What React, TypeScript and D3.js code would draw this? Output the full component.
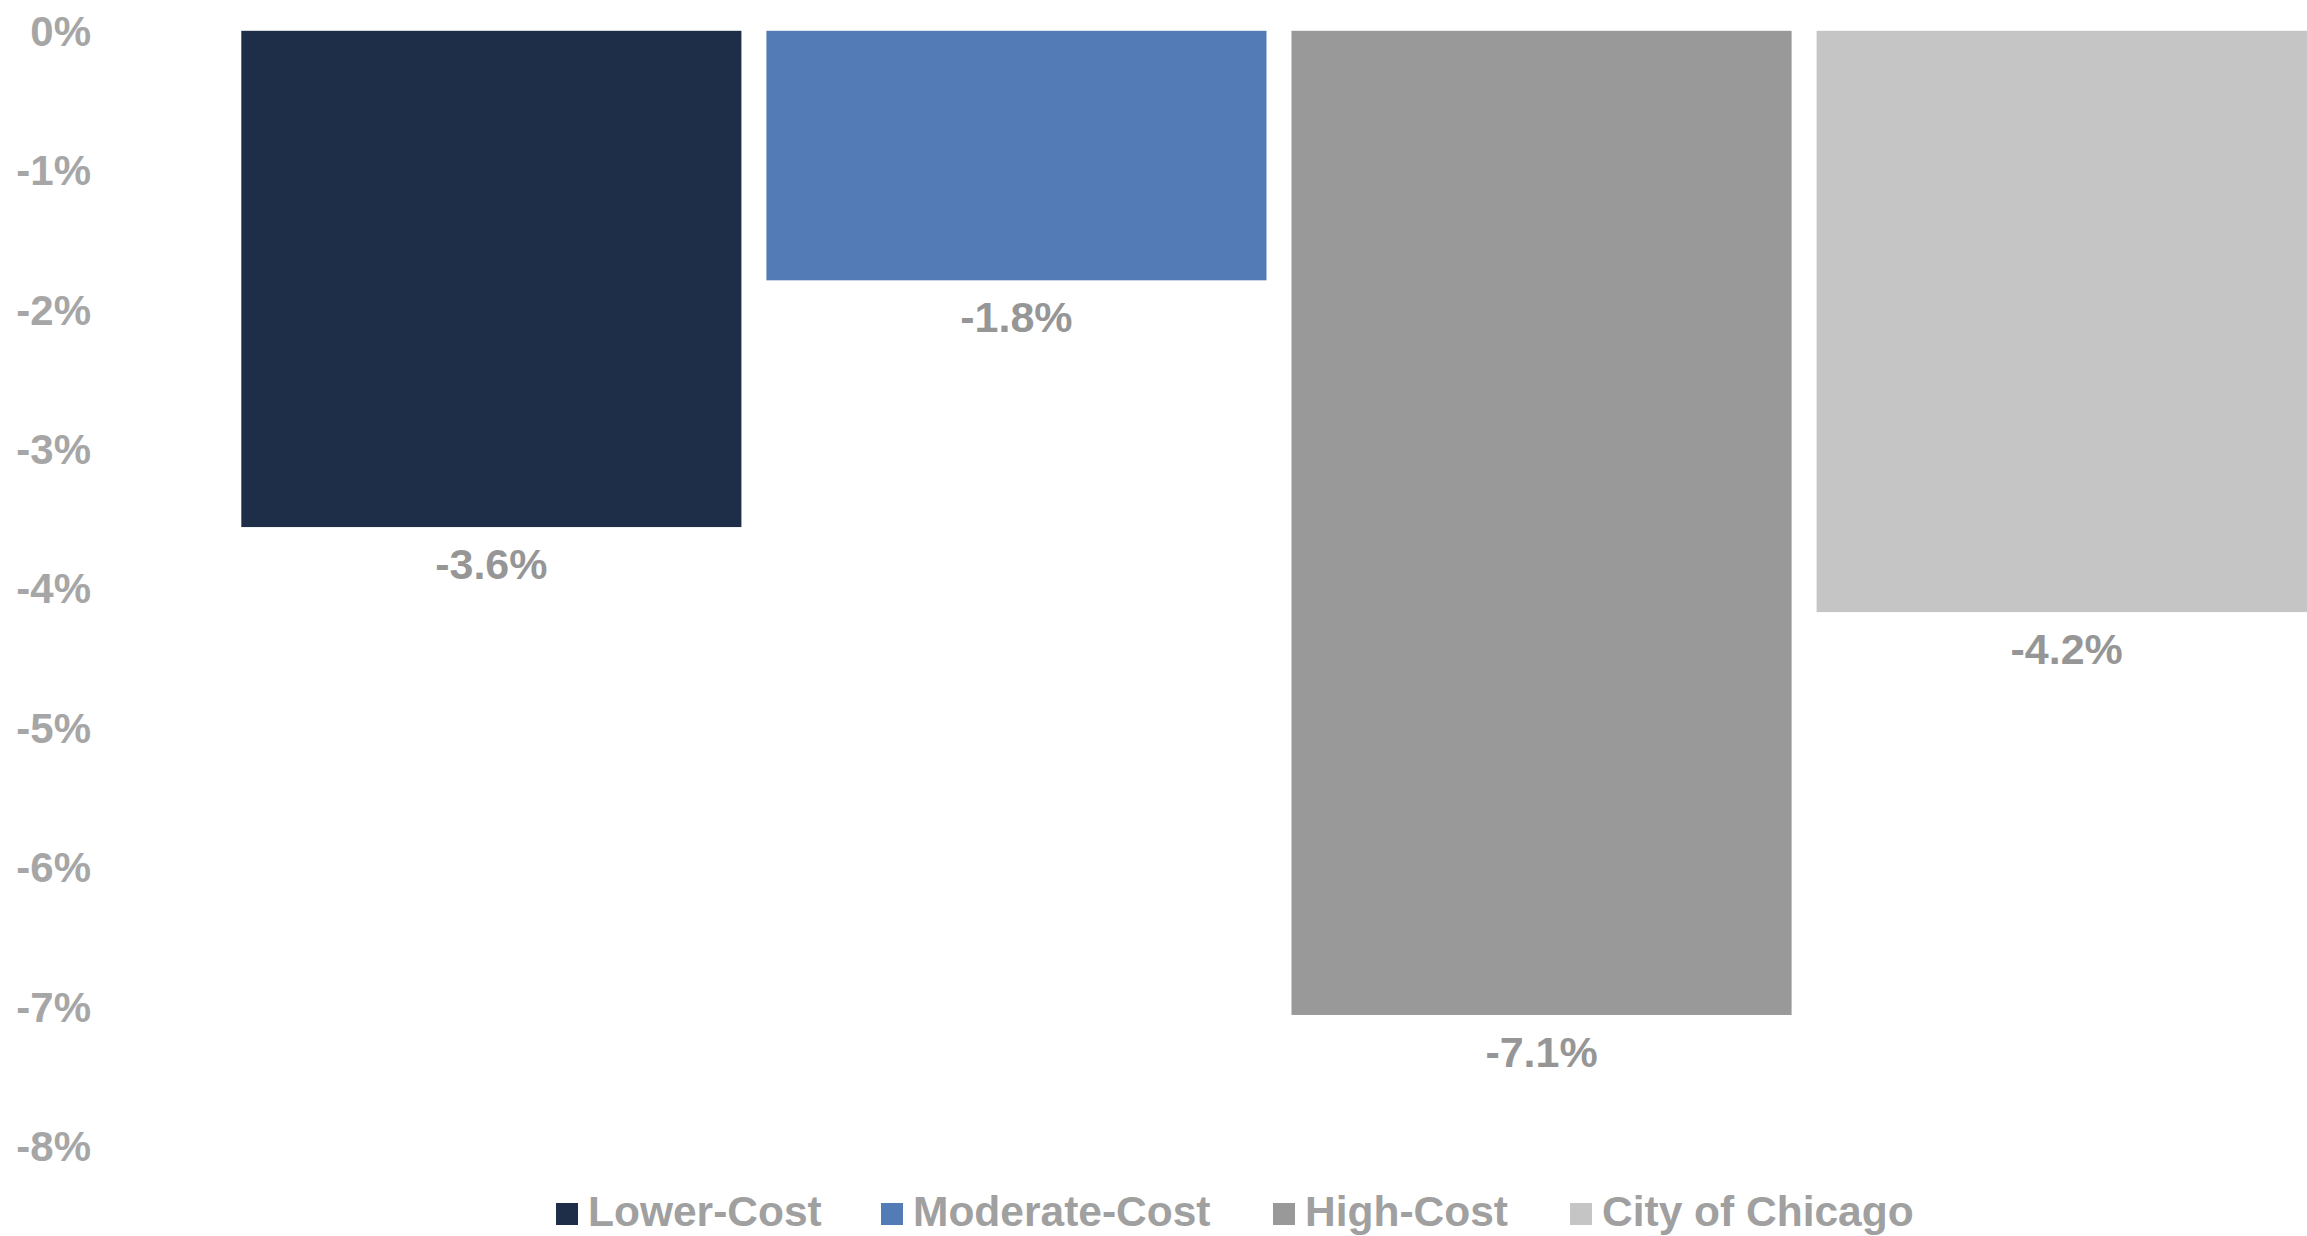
import React from "react";
import * as d3 from "d3";

const categories = ["Lower-Cost", "Moderate-Cost", "High-Cost", "City of Chicago"];
const values = [-3.56, -1.79, -7.06, -4.17];
const colors = ["#1F2E48", "#537BB5", "#999999", "#C5C5C5"];
const yTicks = [0, -1, -2, -3, -4, -5, -6, -7, -8];

const W = 2307;
const H = 1236;
const FONT = "'Liberation Sans', Arial, Helvetica, sans-serif";

export default function App() {
  const x = d3
    .scaleBand<string>()
    .domain(categories)
    .range([228.8, 2329.2])
    .paddingInner(0.0476)
    .paddingOuter(0.0238);
  const y = d3.scaleLinear().domain([-8, 0]).range([1146, 30.8]);

  const legendX = [556, 881, 1273, 1570];

  return (
    <svg
      width={W}
      height={H}
      style={{ position: "absolute", left: 0, top: 0, background: "#fff" }}
      fontFamily={FONT}
      fontWeight="bold"
    >
      <rect x={0} y={0} width={W} height={H} fill="#fff" />
      {yTicks.map((t) => (
        <text
          key={t}
          x={91}
          y={y(t) + 15}
          textAnchor="end"
          fontSize={42}
          fill="#A6A6A6"
        >
          {`${t === 0 ? 0 : t}%`}
        </text>
      ))}
      {categories.map((c, i) => {
        const v = values[i];
        const x0 = x(c)!;
        const bw = x.bandwidth();
        return (
          <g key={c}>
            <rect
              x={x0}
              y={y(0)}
              width={bw}
              height={y(v) - y(0)}
              fill={colors[i]}
            />
            <text
              x={x0 + bw / 2}
              y={y(v) + 52}
              textAnchor="middle"
              fontSize={43}
              fill="#969696"
            >
              {`${v.toFixed(1)}%`}
            </text>
          </g>
        );
      })}
      {categories.map((c, i) => (
        <g key={"lg" + c}>
          <rect x={legendX[i]} y={1203} width={22} height={22} fill={colors[i]} />
          <text x={legendX[i] + 32} y={1226} fontSize={42.5} fill="#A0A0A0">
            {c}
          </text>
        </g>
      ))}
    </svg>
  );
}
